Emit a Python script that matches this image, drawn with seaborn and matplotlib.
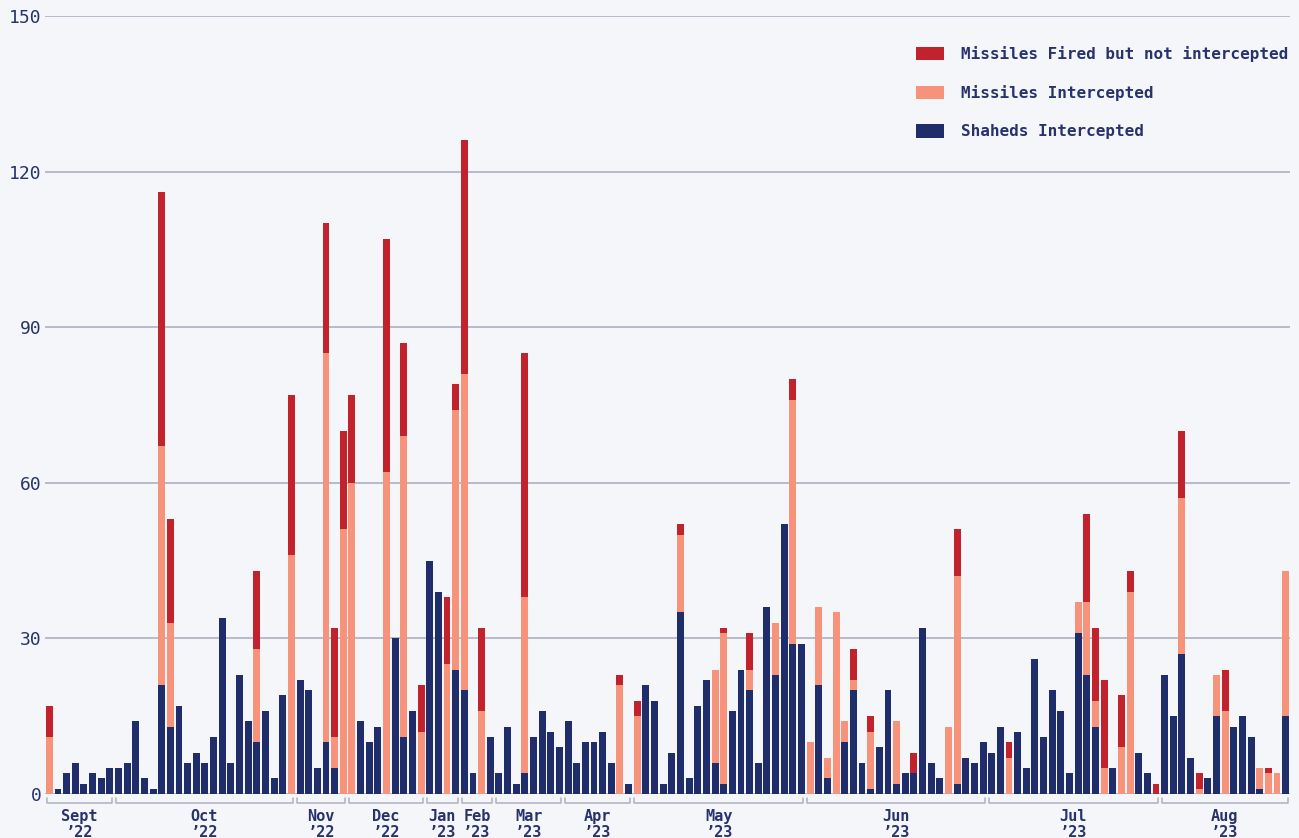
import numpy as np
import pandas as pd
import matplotlib.pyplot as plt
import matplotlib.transforms as mtransforms
from matplotlib.patches import Patch
import seaborn as sns

# Values, one entry per attack day
shaheds = [0, 1, 4, 6, 2, 4, 3, 5,
           5, 6, 14, 3, 1, 21, 13, 17, 6, 8, 6, 11, 34, 6, 23, 14, 10, 16, 3, 19, 0,
           22, 20, 5, 10, 5, 0,
           0, 14, 10, 13, 0, 30, 11, 16, 0,
           45, 39, 0, 24,
           20, 4, 0, 11,
           4, 13, 2, 4, 11, 16, 12, 9,
           14, 6, 10, 10, 12, 6, 0, 2,
           0, 21, 18, 2, 8, 35, 3, 17, 22, 6, 2, 16, 24, 20, 6, 36, 23, 52, 29, 29,
           0, 21, 3, 0, 10, 20, 6, 1, 9, 20, 2, 4, 4, 32, 6, 3, 0, 2, 7, 6, 10,
           8, 13, 0, 12, 5, 26, 11, 20, 16, 4, 31, 23, 13, 0, 5, 0, 0, 8, 4, 0,
           23, 15, 27, 7, 0, 3, 15, 0, 13, 15, 11, 1, 0, 0, 15]
missiles_intercepted = [11, 0, 0, 0, 0, 0, 0, 0,
                        0, 0, 0, 0, 0, 46, 20, 0, 0, 0, 0, 0, 0, 0, 0, 0, 18, 0, 0, 0, 46,
                        0, 0, 0, 75, 6, 51,
                        60, 0, 0, 0, 62, 0, 58, 0, 12,
                        0, 0, 25, 50,
                        61, 0, 16, 0,
                        0, 0, 0, 34, 0, 0, 0, 0,
                        0, 0, 0, 0, 0, 0, 21, 0,
                        15, 0, 0, 0, 0, 15, 0, 0, 0, 18, 29, 0, 0, 4, 0, 0, 10, 0, 47, 0,
                        10, 15, 4, 35, 4, 2, 0, 11, 0, 0, 12, 0, 0, 0, 0, 0, 13, 40, 0, 0, 0,
                        0, 0, 7, 0, 0, 0, 0, 0, 0, 0, 6, 14, 5, 5, 0, 9, 39, 0, 0, 0,
                        0, 0, 30, 0, 1, 0, 8, 16, 0, 0, 0, 4, 4, 4, 28]
missiles_not_intercepted = [6, 0, 0, 0, 0, 0, 0, 0,
                            0, 0, 0, 0, 0, 49, 20, 0, 0, 0, 0, 0, 0, 0, 0, 0, 15, 0, 0, 0, 31,
                            0, 0, 0, 25, 21, 19,
                            17, 0, 0, 0, 45, 0, 18, 0, 9,
                            0, 0, 13, 5,
                            45, 0, 16, 0,
                            0, 0, 0, 47, 0, 0, 0, 0,
                            0, 0, 0, 0, 0, 0, 2, 0,
                            3, 0, 0, 0, 0, 2, 0, 0, 0, 0, 1, 0, 0, 7, 0, 0, 0, 0, 4, 0,
                            0, 0, 0, 0, 0, 6, 0, 3, 0, 0, 0, 0, 4, 0, 0, 0, 0, 9, 0, 0, 0,
                            0, 0, 3, 0, 0, 0, 0, 0, 0, 0, 0, 17, 14, 17, 0, 10, 4, 0, 0, 2,
                            0, 0, 13, 0, 3, 0, 0, 8, 0, 0, 0, 0, 1, 0, 0]

month_labels = ["Sept\n\u201922", "Oct\n\u201922", "Nov\n\u201922", "Dec\n\u201922",
                "Jan\n\u201923", "Feb\n\u201923", "Mar\n\u201923", "Apr\n\u201923",
                "May\n\u201923", "Jun\n\u201923", "Jul\n\u201923", "Aug\n\u201923"]
month_days = [8, 21, 6, 9, 4, 4, 8, 8, 20, 21, 20, 15]

legend_labels = ["Missiles Fired but not intercepted", "Missiles Intercepted", "Shaheds Intercepted"]

RED = "#C1222B"
SALMON = "#F7927B"
NAVY = "#1F2D6B"
BG = "#F5F6F9"
GRID = "#AEB1BF"
TEXT = "#28336E"

df = pd.DataFrame({
    "day": np.arange(len(shaheds)),
    "shaheds": shaheds,
    "intercepted": missiles_intercepted,
    "not_intercepted": missiles_not_intercepted,
})
df["mid"] = df["shaheds"] + df["intercepted"]
df["total"] = df["mid"] + df["not_intercepted"]

sns.set_style("white")
plt.rcParams["font.family"] = ["DejaVu Sans Mono", "DejaVu Sans"]

fig = plt.figure(figsize=(12.99, 8.38), dpi=100, facecolor=BG)
ax = fig.add_axes([45 / 1299, 44 / 838, 1245 / 1299, 778 / 838])
ax.set_facecolor(BG)

# stacked look by overlaying cumulative totals
bar_kw = dict(width=0.8, saturation=1, linewidth=0, ax=ax)
sns.barplot(data=df, x="day", y="total", color=RED, **bar_kw)
sns.barplot(data=df, x="day", y="mid", color=SALMON, **bar_kw)
sns.barplot(data=df, x="day", y="shaheds", color=NAVY, **bar_kw)

ax.set_xlim(-0.5, len(df) - 0.5)
ax.set_ylim(0, 150)
ax.set_yticks([0, 30, 60, 90, 120, 150])
ax.grid(axis="y", color=GRID, linewidth=1.2)
ax.set_axisbelow(True)
ax.set_xticks([])
ax.set_xlabel("")
ax.set_ylabel("")
ax.tick_params(axis="y", length=0, pad=2.5, labelsize=13, labelcolor=TEXT)
for s in ax.spines.values():
    s.set_visible(False)

# month brackets under the bars
trans = mtransforms.blended_transform_factory(ax.transData, ax.transAxes)
y_line = -9 / 778
y_end = -4 / 778
start = 0
for lab, n in zip(month_labels, month_days):
    x0 = start - 0.32
    x1 = start + n - 1 + 0.22
    ax.plot([x0, x0, x1, x1], [y_end, y_line, y_line, y_end], color=GRID,
            linewidth=1.1, transform=trans, clip_on=False)
    ax.text((x0 + x1) / 2, -15 / 778, lab, transform=trans, ha="center", va="top",
            fontsize=11, fontweight="bold", color=TEXT, linespacing=1.05)
    start += n

handles = [Patch(color=c, linewidth=0) for c in [RED, SALMON, NAVY]]
fig.legend(handles, legend_labels, loc="upper left", bbox_to_anchor=(916 / 1299, 1 - 46 / 838),
           frameon=False, prop={"weight": "bold", "size": 11.5},
           labelcolor=TEXT, handlelength=1.75, handleheight=0.9, handletextpad=1.05,
           labelspacing=1.45, borderpad=0, borderaxespad=0)

fig.savefig("out.png", dpi=100, facecolor=BG)
